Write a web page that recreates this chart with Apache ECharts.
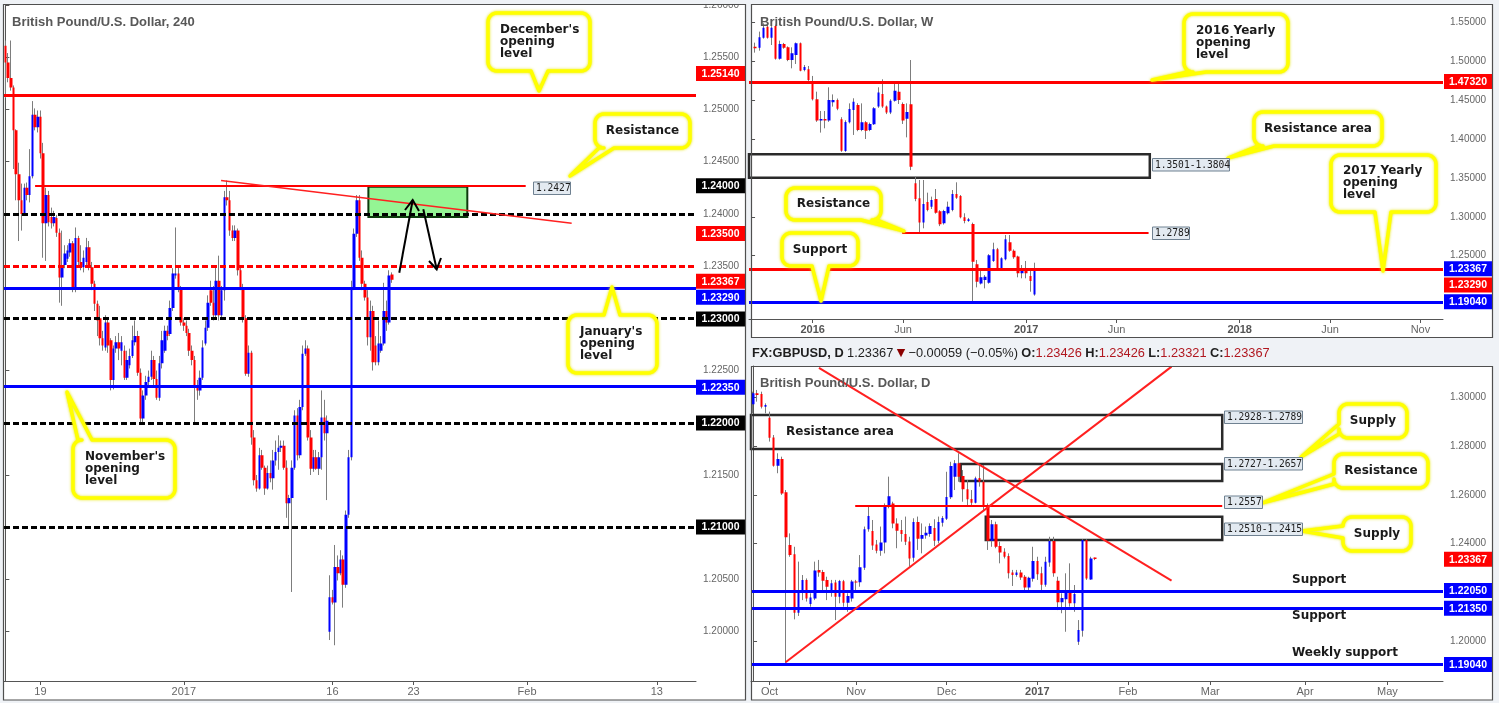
<!DOCTYPE html>
<html><head><meta charset="utf-8">
<script src="https://cdn.jsdelivr.net/npm/echarts@6/dist/echarts.min.js"></script>
<style>html,body{margin:0;padding:0;background:#eff2f6;}#c{width:1499px;height:703px;}</style>
</head><body><div id="c"></div>
<script>
// ======================= DATA =======================
// 4-hour candles  [open, close, low, high]
const h4Candles = [
[1.2561,1.2545,1.2511,1.2566],[1.2545,1.2530,1.2526,1.2554],[1.2530,1.2521,1.2518,1.2566],[1.2521,1.2480,1.2443,1.2523],
[1.2480,1.2438,1.2413,1.2481],[1.2438,1.2413,1.2374,1.2449],[1.2413,1.2400,1.2384,1.2429],[1.2400,1.2425,1.2398,1.2429],
[1.2425,1.2418,1.2413,1.2430],[1.2418,1.2436,1.2411,1.2462],[1.2436,1.2495,1.2434,1.2508],[1.2495,1.2483,1.2480,1.2501],
[1.2483,1.2493,1.2478,1.2499],[1.2493,1.2458,1.2453,1.2499],[1.2458,1.2391,1.2358,1.2468],[1.2391,1.2418,1.2355,1.2425],
[1.2418,1.2392,1.2388,1.2422],[1.2397,1.2391,1.2386,1.2406],[1.2391,1.2397,1.2388,1.2403],[1.2396,1.2382,1.2378,1.2399],
[1.2382,1.2339,1.2315,1.2386],[1.2339,1.2351,1.2312,1.2384],[1.2351,1.2362,1.2348,1.2370],[1.2357,1.2365,1.2354,1.2370],
[1.2363,1.2372,1.2359,1.2376],[1.2372,1.2328,1.2325,1.2374],[1.2328,1.2377,1.2325,1.2387],[1.2377,1.2354,1.2350,1.2379],
[1.2354,1.2349,1.2346,1.2370],[1.2349,1.2358,1.2344,1.2365],[1.2354,1.2368,1.2349,1.2377],[1.2368,1.2349,1.2346,1.2374],
[1.2349,1.2333,1.2327,1.2354],[1.2333,1.2314,1.2307,1.2336],[1.2314,1.2298,1.2283,1.2317],[1.2300,1.2281,1.2274,1.2312],
[1.2281,1.2274,1.2269,1.2288],[1.2272,1.2296,1.2269,1.2303],[1.2296,1.2274,1.2267,1.2300],[1.2279,1.2241,1.2231,1.2281],
[1.2241,1.2271,1.2232,1.2274],[1.2271,1.2277,1.2267,1.2283],[1.2277,1.2271,1.2260,1.2286],[1.2269,1.2277,1.2255,1.2283],
[1.2269,1.2243,1.2241,1.2274],[1.2243,1.2260,1.2241,1.2269],[1.2255,1.2264,1.2252,1.2271],[1.2264,1.2279,1.2262,1.2293],
[1.2277,1.2283,1.2274,1.2298],[1.2283,1.2248,1.2245,1.2288],[1.2248,1.2204,1.2200,1.2252],[1.2204,1.2226,1.2200,1.2231],
[1.2226,1.2239,1.2222,1.2245],[1.2239,1.2244,1.2236,1.2250],[1.2244,1.2260,1.2241,1.2269],[1.2260,1.2242,1.2236,1.2264],
[1.2242,1.2224,1.2222,1.2250],[1.2224,1.2257,1.2221,1.2264],[1.2257,1.2279,1.2252,1.2288],[1.2269,1.2288,1.2267,1.2293],
[1.2288,1.2283,1.2279,1.2293],[1.2285,1.2310,1.2283,1.2317],[1.2310,1.2343,1.2307,1.2348],[1.2341,1.2343,1.2338,1.2387],
[1.2343,1.2329,1.2325,1.2351],[1.2329,1.2296,1.2293,1.2331],[1.2296,1.2293,1.2288,1.2300],[1.2293,1.2286,1.2283,1.2298],
[1.2286,1.2269,1.2264,1.2290],[1.2269,1.2260,1.2255,1.2274],[1.2260,1.2234,1.2200,1.2264],[1.2234,1.2231,1.2222,1.2241],
[1.2231,1.2243,1.2226,1.2250],[1.2243,1.2272,1.2241,1.2279],[1.2276,1.2291,1.2274,1.2298],[1.2291,1.2315,1.2288,1.2322],
[1.2327,1.2315,1.2312,1.2336],[1.2315,1.2303,1.2298,1.2331],[1.2303,1.2336,1.2300,1.2351],[1.2336,1.2303,1.2298,1.2360],
[1.2303,1.2327,1.2300,1.2331],[1.2327,1.2416,1.2317,1.2422],[1.2416,1.2413,1.2408,1.2432],[1.2413,1.2384,1.2379,1.2422],
[1.2384,1.2377,1.2374,1.2389],[1.2377,1.2384,1.2374,1.2389],[1.2384,1.2346,1.2341,1.2386],[1.2346,1.2330,1.2327,1.2351],
[1.2330,1.2300,1.2296,1.2333],[1.2300,1.2247,1.2245,1.2303],[1.2247,1.2267,1.2244,1.2274],[1.2267,1.2186,1.2179,1.2269],
[1.2186,1.2145,1.2140,1.2193],[1.2145,1.2137,1.2134,1.2150],[1.2137,1.2169,1.2136,1.2176],[1.2169,1.2157,1.2155,1.2174],
[1.2157,1.2137,1.2131,1.2159],[1.2137,1.2152,1.2136,1.2159],[1.2152,1.2147,1.2143,1.2164],[1.2147,1.2164,1.2136,1.2174],
[1.2164,1.2172,1.2159,1.2183],[1.2172,1.2176,1.2155,1.2188],[1.2176,1.2178,1.2172,1.2183],[1.2178,1.2157,1.2155,1.2183],
[1.2157,1.2123,1.2109,1.2164],[1.2123,1.2128,1.2099,1.2131],[1.2128,1.2157,1.2038,1.2164],[1.2157,1.2207,1.2155,1.2212],
[1.2207,1.2169,1.2164,1.2214],[1.2169,1.2215,1.2166,1.2222],[1.2215,1.2266,1.2212,1.2274],[1.2266,1.2271,1.2264,1.2279],
[1.2271,1.2186,1.2183,1.2274],[1.2186,1.2156,1.2150,1.2193],[1.2156,1.2167,1.2153,1.2174],[1.2167,1.2156,1.2155,1.2174],
[1.2156,1.2167,1.2150,1.2172],[1.2167,1.2205,1.2155,1.2231],[1.2205,1.2190,1.2183,1.2222],[1.2190,1.2202,1.2126,1.2207],
[1.2000,1.2033,1.1992,1.2054],[1.2033,1.2028,1.2026,1.2040],[1.2028,1.2062,1.1987,1.2083],[1.2062,1.2056,1.2049,1.2073],
[1.2056,1.2069,1.2054,1.2078],[1.2069,1.2045,1.2023,1.2073],[1.2045,1.2112,1.2042,1.2116],[1.2112,1.2167,1.2109,1.2174],
[1.2167,1.2330,1.2164,1.2336],[1.2330,1.2381,1.2327,1.2386],[1.2381,1.2413,1.2378,1.2418],[1.2413,1.2358,1.2355,1.2418],
[1.2358,1.2333,1.2327,1.2365],[1.2333,1.2320,1.2317,1.2336],[1.2320,1.2282,1.2274,1.2327],[1.2282,1.2307,1.2269,1.2317],
[1.2307,1.2258,1.2250,1.2312],[1.2274,1.2258,1.2255,1.2283],[1.2258,1.2276,1.2255,1.2298],[1.2269,1.2276,1.2267,1.2283],
[1.2276,1.2307,1.2274,1.2334],[1.2307,1.2296,1.2288,1.2317],[1.2296,1.2341,1.2294,1.2346],[1.2342,1.2337,1.2334,1.2344]
];
// weekly candles [open, close, low, high], first candle sits in slot 1
const wFirstSlot = 1;
const wCandles = [
[1.5187,1.5165,1.5110,1.5238],[1.5174,1.5307,1.5135,1.5380],[1.5302,1.5431,1.5290,1.5487],[1.5444,1.5302,1.5290,1.5470],
[1.5302,1.5431,1.5208,1.5450],[1.5452,1.5032,1.5020,1.5470],[1.5032,1.5221,1.5020,1.5264],[1.5221,1.5174,1.5160,1.5235],
[1.5178,1.5015,1.5000,1.5190],[1.5015,1.5101,1.4908,1.5178],[1.5080,1.5229,1.4964,1.5240],[1.5229,1.4878,1.4870,1.5240],
[1.4887,1.4925,1.4870,1.4951],[1.4895,1.4758,1.4745,1.4938],[1.4745,1.4510,1.4495,1.4810],[1.4510,1.4236,1.4220,1.4608],
[1.4236,1.4257,1.4082,1.4360],[1.4257,1.4236,1.4137,1.4360],[1.4236,1.4501,1.4220,1.4664],[1.4471,1.4501,1.4416,1.4573],
[1.4501,1.4390,1.4370,1.4520],[1.4253,1.3850,1.3835,1.4280],[1.3846,1.4219,1.3835,1.4240],[1.4214,1.4386,1.4200,1.4458],
[1.4373,1.4480,1.4052,1.4523],[1.4437,1.4116,1.4100,1.4460],[1.4116,1.4214,1.4100,1.4458],[1.4214,1.4107,1.4000,1.4230],
[1.4116,1.4193,1.4100,1.4210],[1.4189,1.4394,1.4180,1.4410],[1.4416,1.4599,1.4400,1.4664],[1.4578,1.4416,1.4400,1.4767],
[1.4416,1.4339,1.4320,1.4430],[1.4339,1.4493,1.4320,1.4510],[1.4493,1.4621,1.4480,1.4737],[1.4608,1.4501,1.4450,1.4724],
[1.4450,1.4236,1.4193,1.4470],[1.4261,1.4347,1.4021,1.4458],[1.4445,1.3644,1.3600,1.5015],[1.3430,1.3229,1.3200,1.3516],
[1.3238,1.2925,1.2787,1.3473],[1.2925,1.3164,1.2852,1.3473],[1.3190,1.3087,1.3070,1.3310],[1.3130,1.3216,1.3100,1.3259],
[1.3229,1.3053,1.3040,1.3357],[1.3070,1.2903,1.2880,1.3085],[1.2916,1.3075,1.2900,1.3090],[1.3045,1.3130,1.3030,1.3195],
[1.3087,1.3293,1.3070,1.3344],[1.3293,1.3246,1.3230,1.3443],[1.3268,1.2993,1.2980,1.3280],[1.2993,1.2946,1.2916,1.3045],
[1.2946,1.2967,1.2935,1.2985],[1.2907,1.2423,1.1909,1.2925],[1.2389,1.2166,1.2093,1.2445],[1.2144,1.2222,1.2130,1.2337],
[1.2187,1.2230,1.2080,1.2251],[1.2153,1.2505,1.2140,1.2520],[1.2432,1.2582,1.2420,1.2667],[1.2582,1.2337,1.2316,1.2600],
[1.2337,1.2466,1.2320,1.2480],[1.2453,1.2710,1.2440,1.2766],[1.2672,1.2565,1.2550,1.2766],[1.2565,1.2479,1.2460,1.2580],
[1.2488,1.2273,1.2222,1.2500],[1.2273,1.2324,1.2209,1.2380],[1.2324,1.2273,1.2209,1.2432],[1.2239,1.2175,1.2037,1.2337],
[1.2000,1.2337,1.1986,1.2410]
];
// daily candles [open, close, low, high]
const dCandles = [
[1.2972,1.3017,1.2935,1.3024],[1.3017,1.3010,1.2983,1.3031],[1.3014,1.2962,1.2955,1.3024],[1.2962,1.2969,1.2935,1.2976],
[1.2917,1.2835,1.2819,1.2942],[1.2836,1.2720,1.2716,1.2846],[1.2720,1.2747,1.2689,1.2771],[1.2747,1.2606,1.2600,1.2757],
[1.2611,1.2426,1.1908,1.2620],[1.2394,1.2353,1.2346,1.2442],[1.2356,1.2116,1.2089,1.2387],[1.2116,1.2201,1.2103,1.2326],
[1.2198,1.2251,1.2168,1.2271],[1.2251,1.2175,1.2162,1.2257],[1.2152,1.2179,1.2141,1.2196],[1.2175,1.2290,1.2168,1.2326],
[1.2292,1.2281,1.2264,1.2333],[1.2283,1.2248,1.2209,1.2292],[1.2251,1.2223,1.2168,1.2264],[1.2203,1.2237,1.2182,1.2251],
[1.2240,1.2182,1.2086,1.2251],[1.2182,1.2246,1.2155,1.2251],[1.2245,1.2157,1.2141,1.2251],[1.2157,1.2185,1.2120,1.2196],
[1.2175,1.2244,1.2162,1.2251],[1.2244,1.2240,1.2209,1.2251],[1.2241,1.2303,1.2223,1.2353],[1.2301,1.2459,1.2292,1.2470],
[1.2459,1.2513,1.2449,1.2554],[1.2452,1.2392,1.2374,1.2497],[1.2396,1.2371,1.2360,1.2415],[1.2371,1.2405,1.2350,1.2470],
[1.2405,1.2554,1.2360,1.2565],[1.2554,1.2595,1.2545,1.2675],[1.2565,1.2483,1.2463,1.2572],[1.2483,1.2453,1.2381,1.2504],
[1.2456,1.2439,1.2408,1.2497],[1.2439,1.2408,1.2394,1.2511],[1.2409,1.2339,1.2305,1.2428],[1.2342,1.2489,1.2326,1.2504],
[1.2489,1.2420,1.2374,1.2511],[1.2420,1.2435,1.2360,1.2483],[1.2433,1.2445,1.2420,1.2470],[1.2439,1.2472,1.2428,1.2483],
[1.2464,1.2412,1.2390,1.2500],[1.2412,1.2489,1.2401,1.2511],[1.2486,1.2505,1.2470,1.2513],[1.2502,1.2591,1.2497,1.2695],
[1.2590,1.2719,1.2583,1.2736],[1.2675,1.2730,1.2620,1.2743],[1.2730,1.2675,1.2654,1.2771],[1.2678,1.2623,1.2572,1.2702],
[1.2623,1.2582,1.2552,1.2661],[1.2583,1.2568,1.2552,1.2620],[1.2568,1.2668,1.2565,1.2675],[1.2669,1.2654,1.2634,1.2723],
[1.2654,1.2556,1.2538,1.2723],[1.2556,1.2412,1.2374,1.2565],[1.2412,1.2480,1.2387,1.2497],[1.2480,1.2387,1.2381,1.2490],
[1.2390,1.2363,1.2319,1.2408],[1.2367,1.2346,1.2339,1.2381],[1.2349,1.2278,1.2257,1.2360],[1.2281,1.2271,1.2226,1.2292],
[1.2271,1.2281,1.2264,1.2292],[1.2281,1.2261,1.2251,1.2292],[1.2264,1.2220,1.2203,1.2271],[1.2220,1.2260,1.2209,1.2264],
[1.2256,1.2329,1.2244,1.2387],[1.2329,1.2274,1.2251,1.2346],[1.2278,1.2231,1.2198,1.2305],[1.2231,1.2326,1.2223,1.2346],
[1.2322,1.2411,1.2305,1.2428],[1.2411,1.2278,1.2264,1.2428],[1.2248,1.2159,1.2127,1.2264],[1.2159,1.2177,1.2114,1.2196],
[1.2172,1.2205,1.2038,1.2278],[1.2205,1.2155,1.2141,1.2319],[1.2155,1.2193,1.2120,1.2230],[1.1997,1.2045,1.1984,1.2086],
[1.2042,1.2415,1.2018,1.2418],[1.2415,1.2257,1.2251,1.2418],[1.2253,1.2339,1.2251,1.2346],[1.23426,1.23367,1.23321,1.23426]
];
// x tick label slots and texts
const h4TickSlots = [13, 66, 121, 151, 193, 241];
const h4TickText  = ['19', '2017', '16', '23', 'Feb', '13'];
const wTickSlots  = [15, 37, 67, 89, 119, 141, 163];
const wTickText   = ['2016', 'Jun', '2017', 'Jun', '2018', 'Jun', 'Nov'];
const dTickSlots  = [4, 25, 47, 69, 91, 111, 134, 154];
const dTickText   = ['Oct', 'Nov', 'Dec', '2017', 'Feb', 'Mar', 'Apr', 'May'];
// y tick values
const h4YTicks = [1.200,1.205,1.210,1.215,1.220,1.225,1.230,1.235,1.240,1.245,1.250,1.255,1.260];
const wYTicks  = [1.25,1.30,1.35,1.40,1.45,1.50,1.55];
const dYTicks  = [1.20,1.24,1.26,1.28,1.30];
// price levels
const h4Dec = 1.2514, h4Res = 1.2427, h4Jan = 1.2329, h4Nov = 1.2235;
const h4Round = [1.24, 1.23, 1.22, 1.21];
const h4Half = 1.235;
const h4Trend = [[79.8, 1.2432], [209.5, 1.2391]];
const h4Zone = [[134.3, 1.2426], [170.9, 1.2397]];
const h4ResSpan = [11.0, 192.5];
const wY2016 = 1.4732, wY2017 = 1.2329, wSupport = 1.1904, wRes = 1.2789;
const wResArea = [1.3501, 1.3804];
const wResSpan = [36.8, 96.8], wAreaSpan = [-0.5, 97.1];
const dResArea = [1.2789, 1.2928], dSupply1 = [1.2657, 1.2727], dRes = 1.2557, dSupply2 = [1.2415, 1.2510];
const dSupports = [1.2205, 1.2135, 1.1904];
const dAreaStart = [-0.5, 50.4, 24.8, 56.5], dAreaEnd = 113.9;
const dAscLine = [[7.9, 1.1913], [101.6, 1.3127]];
const dDescLine = [[16.0, 1.3122], [101.6, 1.2248]];
// right-axis price tags: [text, colour, price at tag centre]
const h4Tags = [['1.25140','#ff0000',1.25345],['1.24000','#000000',1.2427],['1.23500','#ff0000',1.23813],['1.23367','#ff0000',1.23354],
  ['1.23290','#0000ff',1.23202],['1.23000','#000000',1.22993],['1.22350','#0000ff',1.2234],['1.22000','#000000',1.21999],['1.21000','#000000',1.21002]];
const wTags = [['1.47320','#ff0000',1.4739],['1.23367','#0000ff',1.2331],['1.23290','#ff0000',1.2123],['1.19040','#0000ff',1.1907]];
const dTags = [['1.23367','#ff0000',1.2336],['1.22050','#0000ff',1.22074],['1.21350','#0000ff',1.21347],['1.19040','#0000ff',1.19035]];

// ======================= CHART =======================
const H4N = 256, WN = 169, DN = 168;
const FONT = '"Liberation Sans", Arial, sans-serif';
const CF = '"DejaVu Sans", sans-serif';
const MONO = '"DejaVu Sans Mono", monospace';
const BG = '#eff2f6';
const cats = n => Array.from({length: n}, (_, i) => String(i));
const pad = (arr, n) => Array.from({length: n}, () => ['-','-','-','-']).concat(arr);

function xCat(grid, n, slots, texts, boldYears) {
  const on = i => slots.indexOf(i) >= 0;
  return {gridIndex: grid, type: 'category', data: cats(n), boundaryGap: true,
    axisLine: {show: true, lineStyle: {color: '#555', width: 1}},
    axisTick: {show: true, alignWithLabel: true, length: 4, interval: on, lineStyle: {color: '#555'}},
    axisLabel: {interval: on, margin: 5, color: '#666', fontSize: 11, fontFamily: FONT,
      formatter: (v, i) => { const k = slots.indexOf(+v); if (k < 0) return ''; const t = texts[k];
        return (boldYears && /^\d{4}$/.test(t)) ? '{b|' + t + '}' : t; },
      rich: {b: {fontWeight: 'bold', color: '#555', fontSize: 11, fontFamily: FONT}}},
    splitLine: {show: false}};
}
function xVal(grid, n) { return {gridIndex: grid, type: 'value', min: -0.5, max: n - 0.5, show: false}; }
function yVal(grid, min, max, ticks) {
  return {gridIndex: grid, type: 'value', position: 'right', min, max, scale: true,
    axisLine: {show: true, lineStyle: {color: '#555'}},
    axisTick: {show: true, length: 4, customValues: ticks, lineStyle: {color: '#555'}},
    axisLabel: {customValues: ticks, margin: 7, color: '#666', fontSize: 10, fontFamily: FONT, formatter: v => v.toFixed(5)},
    splitLine: {show: false}};
}
function candles(data, xi, yi, bw) {
  return [
    {type: 'candlestick', xAxisIndex: xi, yAxisIndex: yi, data, barWidth: 1, silent: true, z: 2,
     itemStyle: {color: 'rgba(0,0,0,0)', color0: 'rgba(0,0,0,0)', borderColor: '#7d7d7d', borderColor0: '#7d7d7d', borderColorDoji: '#7d7d7d', borderWidth: 1}},
    {type: 'candlestick', xAxisIndex: xi, yAxisIndex: yi, data, barWidth: bw, silent: true, z: 3,
     itemStyle: {color: '#0000ff', color0: '#ff0000', borderColor: '#0000ff', borderColor0: '#ff0000', borderWidth: 0}}
  ];
}
const hline = (v, color, width, type) => ({yAxis: v, lineStyle: {color, width, type: type || 'solid'}});
const seg = (a, b, color, width, type) => [{coord: a, lineStyle: {color, width, type: type || 'solid'}}, {coord: b}];
const box = (a, b, fill, border, bw) => [{coord: a, itemStyle: {color: fill, borderColor: border, borderWidth: bw}}, {coord: b}];
function annot(xi, yi, lines, areas, z) {
  return {type: 'line', xAxisIndex: xi, yAxisIndex: yi, data: [], silent: true, z: z || 4,
    markLine: {silent: true, precision: 6, symbol: ['none', 'none'], label: {show: false}, emphasis: {disabled: true}, animation: false, data: lines},
    markArea: {silent: true, precision: 6, label: {show: false}, emphasis: {disabled: true}, animation: false, data: areas || []}};
}
const DASH = [6, 3];

const option = {
  animation: false,
  backgroundColor: BG,
  grid: [
    {left: 4, top: 4, width: 692, height: 677},
    {left: 749, top: 4, width: 694, height: 315},
    {left: 751, top: 366, width: 692, height: 315}
  ],
  xAxis: [
    xCat(0, H4N, h4TickSlots, h4TickText, false), xVal(0, H4N),
    xCat(1, WN, wTickSlots, wTickText, true), xVal(1, WN),
    xCat(2, DN, dTickSlots, dTickText, true), xVal(2, DN)
  ],
  yAxis: [
    yVal(0, 1.195277, 1.26, h4YTicks),
    yVal(1, 1.16862, 1.5735, wYTicks),
    yVal(2, 1.18358, 1.31294, dYTicks)
  ],
  series: [
    ...candles(h4Candles, 0, 0, 3),
    annot(1, 0, [
      hline(h4Dec, '#ff0000', 3),
      ...h4Round.map(v => hline(v, '#000', 3, DASH)),
      hline(h4Half, '#ff0000', 3, DASH),
      hline(h4Jan, '#0000ff', 3),
      hline(h4Nov, '#0000ff', 3),
      seg([h4ResSpan[0], h4Res], [h4ResSpan[1], h4Res], '#ff0000', 2),
      seg(h4Trend[0], h4Trend[1], '#ff2020', 1.6)
    ]),
    annot(1, 0, [], [box(h4Zone[0], h4Zone[1], 'rgba(0,230,0,0.42)', '#0c3a0c', 2)], 5),
    ...candles(pad(wCandles, wFirstSlot), 2, 1, 3),
    annot(3, 1, [
      hline(wY2016, '#ff0000', 3),
      hline(wY2017, '#ff0000', 3),
      hline(wSupport, '#0000ff', 3),
      seg([wResSpan[0], wRes], [wResSpan[1], wRes], '#ff0000', 2)
    ], [box([wAreaSpan[0], wResArea[1]], [wAreaSpan[1], wResArea[0]], 'rgba(0,0,0,0)', '#2a2a2a', 2.5)]),
    ...candles(dCandles, 4, 2, 3),
    annot(5, 2, [
      ...dSupports.map(v => hline(v, '#0000ff', 3)),
      seg([dAreaStart[2], dRes], [dAreaEnd, dRes], '#ff0000', 2),
      seg(dAscLine[0], dAscLine[1], '#ff2020', 2),
      seg(dDescLine[0], dDescLine[1], '#ff2020', 2)
    ], [
      box([dAreaStart[0], dResArea[1]], [dAreaEnd, dResArea[0]], 'rgba(0,0,0,0)', '#2a2a2a', 2.5),
      box([dAreaStart[1], dSupply1[1]], [dAreaEnd, dSupply1[0]], 'rgba(0,0,0,0)', '#2a2a2a', 2.5),
      box([dAreaStart[3], dSupply2[1]], [dAreaEnd, dSupply2[0]], 'rgba(0,0,0,0)', '#2a2a2a', 2.5)
    ])
  ]
};

const chart = echarts.init(document.getElementById('c'), null, {renderer: 'canvas'});
chart.setOption(option);

// ======================= DECORATION =======================
function arc(pts, cx, cy, r, a0, a1) {
  for (let k = 0; k <= 6; k++) { const t = (a0 + (a1 - a0) * k / 6) * Math.PI / 180; pts.push([cx + r * Math.cos(t), cy + r * Math.sin(t)]); }
}
function calloutPoints(c) {
  const {x, y, w, h} = c, r = 9, s = c.side, a = c.a, b = c.b, tip = [c.tx, c.ty];
  const p = [];
  arc(p, x + r, y + r, r, 180, 270);
  if (s === 'top') p.push([a, y], tip, [b, y]);
  arc(p, x + w - r, y + r, r, 270, 360);
  if (s === 'right') p.push([x + w, a], tip, [x + w, b]);
  arc(p, x + w - r, y + h - r, r, 0, 90);
  if (s === 'bottom') p.push([b, y + h], tip, [a, y + h]);
  arc(p, x + r, y + h - r, r, 90, 180);
  if (s === 'left') p.push([x, b], tip, [x, a]);
  return p;
}
const callouts = [
  {x: 488, y: 13, w: 102, h: 58, side: 'bottom', a: 531, b: 548, tx: 539, ty: 91, t: "December's\nopening\nlevel"},
  {x: 595, y: 114, w: 95, h: 34, side: 'bottom', a: 599, b: 614, tx: 570, ty: 176, t: 'Resistance', c: true},
  {x: 568, y: 315, w: 89, h: 58, side: 'top', a: 604, b: 620, tx: 612, ty: 287, t: "January's\nopening\nlevel"},
  {x: 73, y: 440, w: 102, h: 58, side: 'top', a: 78, b: 92, tx: 67, ty: 392, t: "November's\nopening\nlevel"},
  {x: 1184, y: 14, w: 104, h: 58, side: 'bottom', a: 1188, b: 1206, tx: 1152, ty: 80, t: '2016 Yearly\nopening\nlevel'},
  {x: 1254, y: 112, w: 128, h: 34, side: 'bottom', a: 1258, b: 1274, tx: 1228, ty: 158, t: 'Resistance area', c: true},
  {x: 1331, y: 155, w: 105, h: 57, side: 'bottom', a: 1375, b: 1391, tx: 1383, ty: 271, t: '2017 Yearly\nopening\nlevel'},
  {x: 786, y: 188, w: 95, h: 32, side: 'bottom', a: 861, b: 877, tx: 904, ty: 231, t: 'Resistance', c: true},
  {x: 782, y: 233, w: 76, h: 33, side: 'bottom', a: 812, b: 829, tx: 821, ty: 301, t: 'Support', c: true},
  {x: 1339, y: 404, w: 68, h: 34, side: 'left', a: 424, b: 434, tx: 1301, ty: 457, t: 'Supply', c: true},
  {x: 1334, y: 454, w: 94, h: 34, side: 'left', a: 474, b: 484, tx: 1262, ty: 503, t: 'Resistance', c: true},
  {x: 1343, y: 517, w: 68, h: 34, side: 'left', a: 526, b: 538, tx: 1302, ty: 531, t: 'Supply', c: true}
];
const boxTags = [
  {x: 533, y: 181.5, w: 37, t: '1.2427'},
  {x: 1152, y: 158, w: 77, t: '1.3501-1.3804'},
  {x: 1152, y: 226.5, w: 37, t: '1.2789'},
  {x: 1224, y: 410.5, w: 78, t: '1.2928-1.2789'},
  {x: 1224, y: 457, w: 78, t: '1.2727-1.2657'},
  {x: 1224, y: 495.5, w: 38, t: '1.2557'},
  {x: 1224, y: 522.5, w: 78, t: '1.2510-1.2415'}
];
const plainTexts = [
  {x: 12, y: 22, t: 'British Pound/U.S. Dollar, 240', title: true},
  {x: 760, y: 22, t: 'British Pound/U.S. Dollar, W', title: true},
  {x: 760, y: 383.5, t: 'British Pound/U.S. Dollar, D', title: true},
  {x: 786, y: 432, t: 'Resistance area'},
  {x: 1292, y: 580, t: 'Support'},
  {x: 1292, y: 616, t: 'Support'},
  {x: 1292, y: 653, t: 'Weekly support'}
];
const TXT = (align) => ({align, verticalAlign: 'middle', textAlign: align, textVerticalAlign: 'middle'});

const g = [];
[[3.5, 4.5, 742, 695.5], [751.5, 4.5, 741, 333], [751.5, 366.5, 741, 333.5]].forEach(r => {
  g.push({type: 'rect', z: -10, silent: true, shape: {x: r[0], y: r[1], width: r[2], height: r[3]}, style: {fill: '#ffffff'}});
  g.push({type: 'rect', z: 200, silent: true, shape: {x: r[0], y: r[1], width: r[2], height: r[3]}, style: {fill: 'none', stroke: '#4f4f4f', lineWidth: 1.2}});
});
// page margin strip above the panels (clips the top axis label like the original)
g.push({type: 'rect', z: 150, silent: true, shape: {x: 0, y: 0, width: 1499, height: 4.5}, style: {fill: BG}});
callouts.forEach(c => {
  g.push({type: 'polygon', z: 50, silent: true, shape: {points: calloutPoints(c)},
    style: {fill: '#ffffff', stroke: '#ffff00', lineWidth: 3.5, shadowBlur: 3, shadowColor: 'rgba(230,230,0,0.9)', lineJoin: 'round'}});
  const lines = c.t.split('\n').length;
  g.push({type: 'text', z: 51, silent: true, x: c.c ? c.x + c.w / 2 : c.x + 12, y: c.y + c.h / 2 - (lines > 1 ? 0.5 : 0),
    style: Object.assign({text: c.t, font: 'bold 12px ' + CF, fill: '#1a1a1a', lineHeight: 12}, TXT(c.c ? 'center' : 'left'))});
});
boxTags.forEach(b => {
  g.push({type: 'rect', z: 52, silent: true, shape: {x: b.x + 0.5, y: b.y + 0.5, width: b.w, height: 12.5},
    style: {fill: '#e3eaf1', stroke: '#6f8191', lineWidth: 1}});
  g.push({type: 'text', z: 53, silent: true, x: b.x + 3, y: b.y + 7.2,
    style: Object.assign({text: b.t, font: '9.6px ' + MONO, fill: '#1c1c1c'}, TXT('left'))});
});
plainTexts.forEach(p => {
  g.push({type: 'text', z: 55, silent: true, x: p.x, y: p.y,
    style: Object.assign({text: p.t, font: p.title ? 'bold 13px ' + FONT : 'bold 12px ' + CF, fill: p.title ? '#585858' : '#1a1a1a'}, TXT('left'))});
});
[[[399.3, 272.7], [412.7, 200], [405, 210], [419, 211]], [[423.3, 209.3], [436.7, 269.3], [429, 261], [441, 258]]].forEach(a => {
  g.push({type: 'polyline', z: 56, silent: true, shape: {points: [a[0], a[1]]}, style: {stroke: '#000', lineWidth: 2}});
  g.push({type: 'polyline', z: 56, silent: true, shape: {points: [a[2], a[1], a[3]]}, style: {stroke: '#000', lineWidth: 2, fill: 'none'}});
});
g.push({type: 'text', z: 60, silent: true, x: 752, y: 353,
  style: Object.assign({text: '{b|FX:GBPUSD, D} {n|1.23367} {t|▼} {n|−0.00059 (−0.05%)} {b|O:}{r|1.23426} {b|H:}{r|1.23426} {b|L:}{r|1.23321} {b|C:}{r|1.23367}',
    rich: {b: {font: 'bold 12.8px ' + FONT, fill: '#1e1e1e'}, n: {font: '12.8px ' + FONT, fill: '#1e1e1e'},
           t: {font: '11px ' + CF, fill: '#8b0000'}, r: {font: '12.8px ' + FONT, fill: '#b0171f'}}}, TXT('left'))});
function addTags(tags, yAxisIndex, x0, w) {
  tags.forEach(t => {
    const py = chart.convertToPixel({yAxisIndex}, t[2]);
    g.push({type: 'rect', z: 70, silent: true, shape: {x: x0, y: py - 7.5, width: w, height: 15}, style: {fill: t[1]}});
    g.push({type: 'text', z: 71, silent: true, x: x0 + w / 2, y: py + 0.5,
      style: Object.assign({text: t[0], font: 'bold 10.5px ' + FONT, fill: '#ffffff'}, TXT('center'))});
  });
}
addTags(h4Tags, 0, 696, 49);
addTags(wTags, 1, 1444, 48);
addTags(dTags, 2, 1444, 48);

chart.setOption({graphic: {elements: g}});
</script></body></html>
